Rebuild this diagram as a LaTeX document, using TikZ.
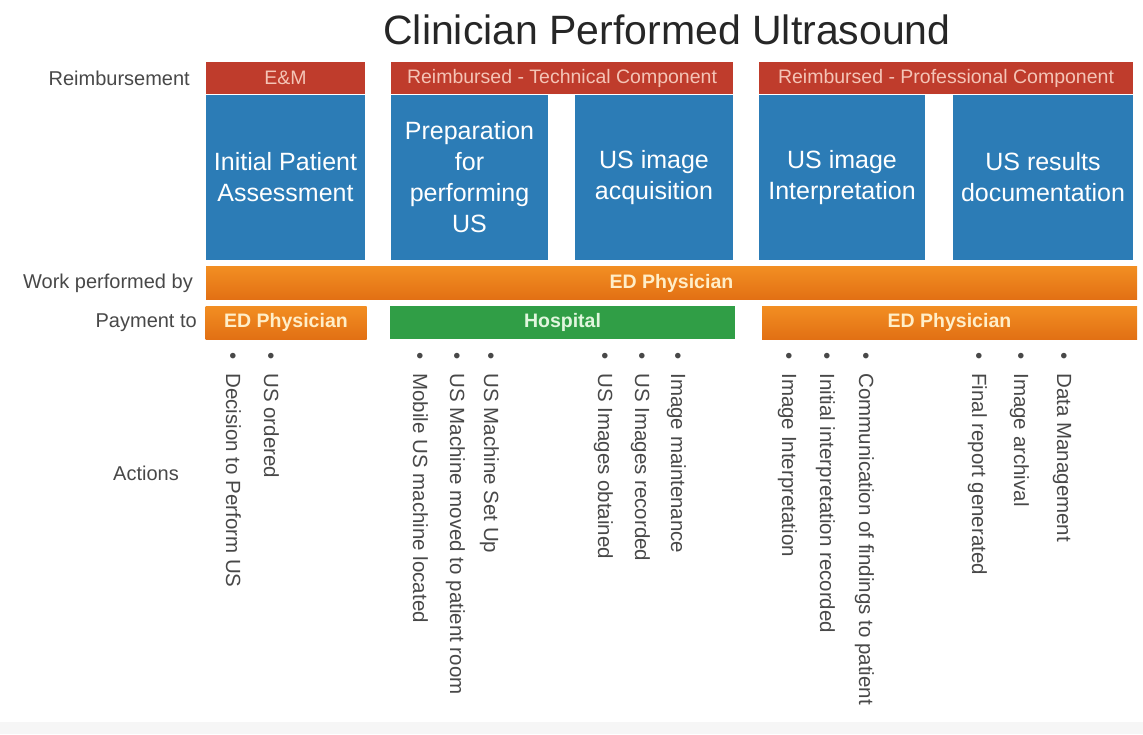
\documentclass[tikz,border=0pt]{standalone}
\usepackage{fontspec}
\setmainfont{Liberation Sans}
\definecolor{reimbred}{RGB}{191,60,44}
\definecolor{reimbtext}{RGB}{244,196,182}
\definecolor{stageblue}{RGB}{44,124,182}
\definecolor{edorangetop}{RGB}{242,142,34}
\definecolor{edorangebot}{RGB}{226,112,20}
\definecolor{edtext}{RGB}{255,238,200}
\definecolor{hospgreen}{RGB}{48,158,70}
\definecolor{hosptext}{RGB}{225,246,222}
\definecolor{labelgrey}{RGB}{72,72,72}
\tikzset{
	reimbstyle/.style={rectangle, fill=reimbred, text=reimbtext, inner sep=0pt, minimum height=32, font=\fontsize{19.5}{22}\selectfont},
	stagestyle/.style={rectangle, fill=stageblue, text=white, inner sep=0pt, minimum height=165, align=center, font=\fontsize{25}{31}\selectfont},
	edstyle/.style={rectangle, top color=edorangetop, bottom color=edorangebot, text=edtext, inner sep=0pt, minimum height=33, font=\fontsize{19.5}{22}\selectfont\bfseries},
	hospstyle/.style={rectangle, fill=hospgreen, text=hosptext, inner sep=0pt, minimum height=33, font=\fontsize{19.5}{22}\selectfont\bfseries},
	rowlabel/.style={anchor=east, text=labelgrey, inner sep=0pt, font=\fontsize{20}{24}\selectfont},
	actionstyle/.style={rotate=-90, anchor=west, inner sep=0pt, text height=14, text depth=0, text=labelgrey, font=\fontsize{20.5}{24}\selectfont}
}

\begin{document}
\begin{tikzpicture}[x=1pt, y=-1pt]

\def\rowr{78}
\def\rows{177.5}
\def\roww{283}
\def\rowp{322.5}
\def\acty{352}

\useasboundingbox (0,0) rectangle (1143,734);
\fill[gray!7] (0,722) rectangle (1143,734);

\node[text=black!85, font=\fontsize{41}{48}\selectfont] (title) at (667,30) {Clinician Performed Ultrasound};

\node[reimbstyle, minimum width=159] (em)   at (285.5, \rowr) {E\&M};
\node[reimbstyle, minimum width=342] (tech) at (562, \rowr)   {Reimbursed - Technical Component};
\node[reimbstyle, minimum width=374] (prof) at (946, \rowr)   {Reimbursed - Professional Component};

\node[stagestyle, minimum width=159] (assess) at (285.5, \rows) {Initial Patient\\Assessment};
\node[stagestyle, minimum width=157] (prep)   at (469.5, \rows) {Preparation\\for\\performing\\US};
\node[stagestyle, minimum width=158] (acq)    at (654, \rows)   {US image\\acquisition};
\node[stagestyle, minimum width=166] (interp) at (842, \rows)   {US image\\Interpretation};
\node[stagestyle, minimum width=180] (docum)  at (1043, \rows)  {US results\\documentation};

\node[edstyle, minimum width=931] (work) at (671.5, \roww) {ED Physician};

\node[edstyle, minimum width=161]   (payem)   at (286, \rowp)   {ED Physician};
\node[hospstyle, minimum width=345] (payhosp) at (562.5, \rowp) {Hospital};
\node[edstyle, minimum width=375]   (paypro)  at (949.5, \rowp) {ED Physician};

\node[rowlabel] (lreimb) at (190, \rowr) {Reimbursement};
\node[rowlabel] (lwork)  at (193, \roww) {Work performed by};
\node[rowlabel] (lpay)   at (197, \rowp) {Payment to};
\node[text=labelgrey, inner sep=0pt, font=\fontsize{20}{24}\selectfont] (lact) at (146, 473) {Actions};

\node[actionstyle] (act1)  at (233, \acty)  {\textbullet\hspace{14pt}Decision to Perform US};
\node[actionstyle] (act2)  at (271, \acty)  {\textbullet\hspace{14pt}US ordered};
\node[actionstyle] (act3)  at (420, \acty)  {\textbullet\hspace{14pt}Mobile US machine located};
\node[actionstyle] (act4)  at (457, \acty)  {\textbullet\hspace{14pt}US Machine moved to patient room};
\node[actionstyle] (act5)  at (491, \acty)  {\textbullet\hspace{14pt}US Machine Set Up};
\node[actionstyle] (act6)  at (605, \acty)  {\textbullet\hspace{14pt}US Images obtained};
\node[actionstyle] (act7)  at (642, \acty)  {\textbullet\hspace{14pt}US Images recorded};
\node[actionstyle] (act8)  at (678, \acty)  {\textbullet\hspace{14pt}Image maintenance};
\node[actionstyle] (act9)  at (789, \acty)  {\textbullet\hspace{14pt}Image Interpretation};
\node[actionstyle] (act10) at (827, \acty)  {\textbullet\hspace{14pt}Initial interpretation recorded};
\node[actionstyle] (act11) at (866, \acty)  {\textbullet\hspace{14pt}Communication of findings to patient};
\node[actionstyle] (act12) at (979, \acty)  {\textbullet\hspace{14pt}Final report generated};
\node[actionstyle] (act13) at (1021, \acty) {\textbullet\hspace{14pt}Image archival};
\node[actionstyle] (act14) at (1064, \acty) {\textbullet\hspace{14pt}Data Management};

\end{tikzpicture}
\end{document}
